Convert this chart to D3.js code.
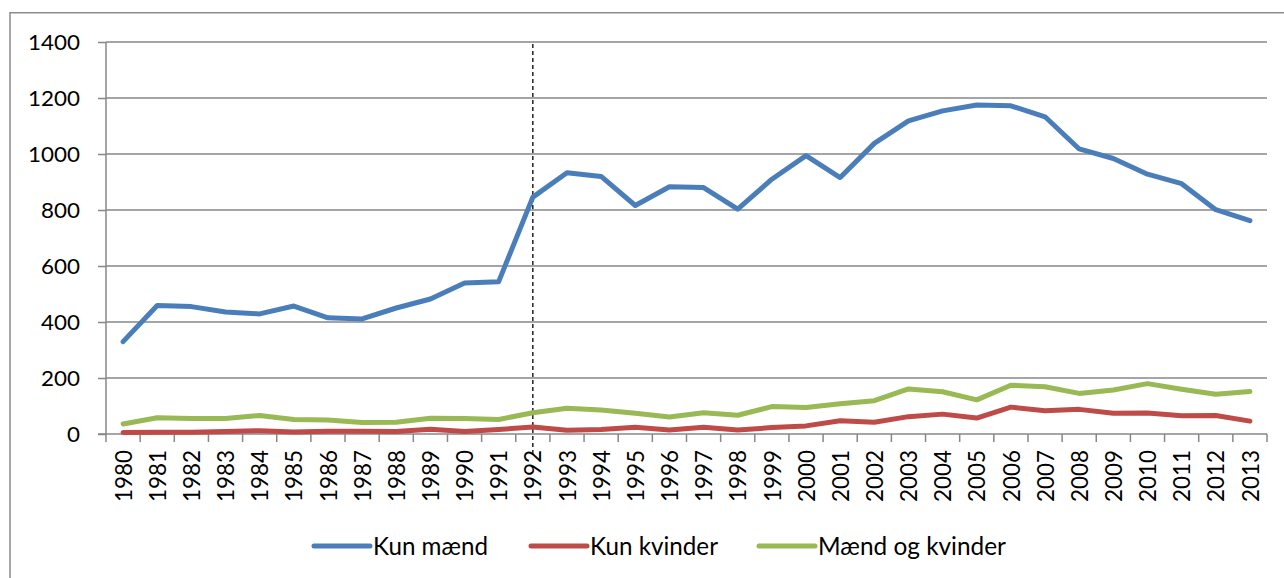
<!DOCTYPE html>
<html><head><meta charset="utf-8">
<script src="https://cdn.jsdelivr.net/npm/d3@7"></script>
<style>body{margin:0;background:#fff;}svg{display:block;}</style>
</head><body>
<svg id="c" width="1284" height="578"></svg>
<script>
const years = [1980,1981,1982,1983,1984,1985,1986,1987,1988,1989,1990,1991,1992,1993,1994,1995,1996,1997,1998,1999,2000,2001,2002,2003,2004,2005,2006,2007,2008,2009,2010,2011,2012,2013];
const kunMaend = [330,459,455,436,429,457,415,411,450,482,539,544,846,933,920,816,883,880,803,910,994,916,1038,1118,1154,1175,1172,1133,1018,984,928,894,801,762];
const kunKvinder = [5,6,6,9,12,7,10,10,9,17,9,16,25,13,16,24,14,24,14,23,29,47,42,62,71,57,96,83,88,74,75,65,66,46];
const maendOgKvinder = [36,58,55,55,66,52,50,41,42,56,55,52,76,92,86,74,61,76,67,98,95,108,119,161,151,122,174,169,145,157,180,160,142,152];
const yTicks = [0,200,400,600,800,1000,1200,1400];
const seriesNames = ["Kun mænd","Kun kvinder","Mænd og kvinder"];
const seriesColors = ["#4a7ebb","#be4b48","#98b954"];
const markerYear = 1992;

const series = [kunMaend, kunKvinder, maendOgKvinder];
const svg = d3.select("#c");
const FONT = "Lato, 'Open Sans', sans-serif";
const L = 106, R = 1267, T = 42, B = 434;

// outer chart border
svg.append("rect").attr("x",10).attr("y",12.75).attr("width",1290).attr("height",600)
  .attr("fill","none").attr("stroke","#8c8c8c").attr("stroke-width",1.5);

const x = d3.scaleBand().domain(years).range([L,R]).padding(0);
const y = d3.scaleLinear().domain([0,1400]).range([B,T]);

// gridlines
svg.append("g").selectAll("line").data(yTicks.filter(d=>d>0)).join("line")
  .attr("x1",L).attr("x2",R).attr("y1",d=>y(d)).attr("y2",d=>y(d))
  .attr("stroke","#878787").attr("stroke-width",1.5);

// y axis
const ya = svg.append("g").attr("transform",`translate(${L},0)`)
  .call(d3.axisLeft(y).tickValues(yTicks).tickFormat(d3.format("d")).tickSize(8).tickPadding(18));
ya.select(".domain").attr("stroke","#878787").attr("stroke-width",1.5).attr("d",`M0,${T}V${B}`);
ya.selectAll(".tick line").attr("stroke","#878787").attr("stroke-width",1.5);
ya.selectAll(".tick text").attr("font-family",FONT).attr("font-size",21).attr("fill","#000")
  .attr("dy","0.36em")
  .attr("textLength",d=>String(d).length*13).attr("lengthAdjust","spacingAndGlyphs");

// x axis
const xa = svg.append("g").attr("transform",`translate(0,${B})`)
  .call(d3.axisBottom(x).tickSize(0).tickPadding(0));
xa.select(".domain").attr("stroke","#878787").attr("stroke-width",1.5).attr("d",`M${L-8},0H${R}`);
xa.selectAll(".tick text").remove();
// boundary ticks
const bounds = years.map(d=>x(d)).concat([x(years[years.length-1])+x.bandwidth()]);
svg.append("g").selectAll("line").data(bounds).join("line")
  .attr("x1",d=>d).attr("x2",d=>d).attr("y1",B).attr("y2",B+8)
  .attr("stroke","#878787").attr("stroke-width",1.5);
// rotated year labels
svg.append("g").selectAll("text").data(years).join("text")
  .attr("transform",d=>`translate(${x(d)+x.bandwidth()/2},450) rotate(-90)`)
  .attr("text-anchor","end").attr("dy","0.36em")
  .attr("font-family",FONT).attr("font-size",24).attr("fill","#000")
  .attr("textLength",52).attr("lengthAdjust","spacingAndGlyphs")
  .text(d=>d);

// dashed marker line
const mx = x(markerYear)+x.bandwidth()/2;
svg.append("line").attr("x1",mx).attr("x2",mx).attr("y1",T+2).attr("y2",456)
  .attr("stroke","#000").attr("stroke-width",1.3).attr("stroke-dasharray","4,3");

// series lines
const line = d3.line().x((d,i)=>x(years[i])+x.bandwidth()/2).y(d=>y(d));
series.forEach((s,k)=>{
  svg.append("path").datum(s).attr("d",line).attr("fill","none")
    .attr("stroke",seriesColors[k]).attr("stroke-width",5)
    .attr("stroke-linejoin","round").attr("stroke-linecap","round");
});

// legend
const legX = [314,531,759];
const legW = [115,128,188];
const lg = svg.append("g");
seriesNames.forEach((n,k)=>{
  lg.append("line").attr("x1",legX[k]).attr("x2",legX[k]+56).attr("y1",546).attr("y2",546)
    .attr("stroke",seriesColors[k]).attr("stroke-width",5).attr("stroke-linecap","round");
  lg.append("text").attr("x",legX[k]+59).attr("y",555).attr("font-family",FONT).attr("font-size",25)
    .attr("fill","#000").attr("textLength",legW[k]).attr("lengthAdjust","spacingAndGlyphs").text(n);
});
</script>
</body></html>
